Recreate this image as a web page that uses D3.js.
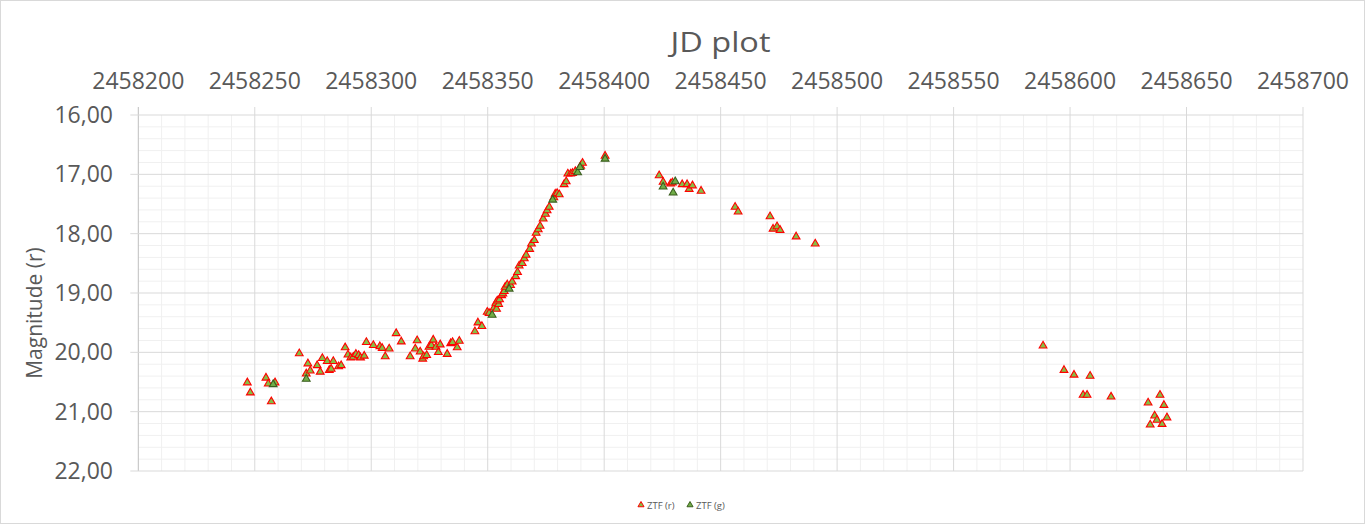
<!doctype html>
<html>
<head>
<meta charset="utf-8">
<script src="https://cdn.jsdelivr.net/npm/d3@7"></script>
<style>
  html, body { margin: 0; padding: 0; background: #fff; }
  svg { display: block; font-family: "Open Sans", sans-serif; }
</style>
</head>
<body>
<svg id="chart" width="1365" height="524"></svg>
<script>
  // ZTF (r) photometry
  var rJD = [
    2458246.8, 2458248.1, 2458254.8, 2458255.8, 2458258.7, 2458257.1, 2458269.1, 2458272.8,
    2458272.1, 2458273.8, 2458276.8, 2458278.1, 2458279.0, 2458281.1, 2458282.0, 2458282.8,
    2458283.7, 2458286.0, 2458287.1, 2458288.8, 2458290.0, 2458291.2, 2458292.3, 2458293.4,
    2458294.6, 2458295.4, 2458297.0, 2458297.9, 2458300.9, 2458303.7, 2458304.7, 2458306.0,
    2458307.7, 2458310.7, 2458312.9, 2458316.7, 2458318.9, 2458319.7, 2458321.0, 2458322.1,
    2458322.5, 2458323.8, 2458324.8, 2458325.8, 2458326.6, 2458327.8, 2458328.8, 2458329.6,
    2458332.6, 2458334.1, 2458334.9, 2458336.9, 2458337.8, 2458344.5, 2458345.8, 2458347.5,
    2458349.8, 2458350.6, 2458352.7, 2458353.8, 2458353.5, 2458354.7, 2458354.1, 2458355.1,
    2458356.0, 2458356.5, 2458357.1, 2458357.5, 2458358.4, 2458359.8, 2458360.5, 2458362.0,
    2458362.8, 2458363.5, 2458364.8, 2458365.7, 2458366.5, 2458368.0, 2458368.8, 2458370.0,
    2458370.8, 2458371.7, 2458372.5, 2458373.8, 2458374.8, 2458375.5, 2458376.4, 2458378.4,
    2458379.0, 2458379.8, 2458380.7, 2458382.8, 2458383.7, 2458384.4, 2458385.6, 2458386.4,
    2458387.6, 2458389.9, 2458390.7, 2458400.4, 2458423.6, 2458425.3, 2458428.5, 2458429.3,
    2458433.5, 2458435.6, 2458436.5, 2458437.9, 2458441.6, 2458456.2, 2458457.5, 2458471.2,
    2458472.5, 2458474.2, 2458475.5, 2458482.4, 2458490.6, 2458588.4, 2458597.4, 2458601.7,
    2458608.6, 2458605.6, 2458607.3, 2458617.6, 2458633.5, 2458638.6, 2458640.3, 2458636.3,
    2458637.3, 2458641.6, 2458634.4, 2458639.5
  ];
  var rMag = [
    20.51, 20.68, 20.43, 20.53, 20.51, 20.83, 20.02, 20.19,
    20.36, 20.31, 20.22, 20.33, 20.10, 20.15, 20.30, 20.28,
    20.15, 20.24, 20.22, 19.92, 20.04, 20.09, 20.08, 20.03,
    20.05, 20.09, 20.06, 19.83, 19.88, 19.90, 19.93, 20.07,
    19.94, 19.68, 19.82, 20.07, 19.94, 19.80, 19.99, 20.11,
    20.07, 20.05, 19.91, 19.88, 19.79, 19.91, 20.00, 19.87,
    20.03, 19.85, 19.83, 19.92, 19.81, 19.65, 19.50, 19.56,
    19.32, 19.34, 19.25, 19.27, 19.17, 19.19, 19.13, 19.11,
    19.04, 19.01, 18.97, 18.90, 18.86, 18.87, 18.81, 18.72,
    18.65, 18.54, 18.50, 18.42, 18.36, 18.26, 18.17, 18.11,
    17.99, 17.93, 17.87, 17.75, 17.67, 17.61, 17.55, 17.39,
    17.33, 17.32, 17.34, 17.17, 17.12, 16.99, 16.99, 16.98,
    16.95, 16.86, 16.81, 16.69, 17.02, 17.13, 17.16, 17.14,
    17.17, 17.17, 17.25, 17.19, 17.28, 17.55, 17.63, 17.71,
    17.92, 17.88, 17.94, 18.05, 18.17, 19.89, 20.30, 20.38,
    20.40, 20.72, 20.72, 20.75, 20.85, 20.72, 20.89, 21.07,
    21.14, 21.10, 21.22, 21.21
  ];

  // ZTF (g) photometry
  var gJD = [
    2458257.9, 2458272.1, 2458351.9, 2458359.2, 2458377.9, 2458388.6,
    2458389.6, 2458400.4, 2458425.3, 2458430.5, 2458429.6
  ];
  var gMag = [
    20.54, 20.45, 19.37, 18.93, 17.43, 16.97,
    16.88, 16.74, 17.21, 17.12, 17.31
  ];

  var xTicks = d3.range(2458200, 2458701, 50);
  var yTicks = [16, 17, 18, 19, 20, 21, 22];
  var seriesNames = ['ZTF (r)', 'ZTF (g)'];

  var W = 1365, H = 524;
  var plotL = 138.3, plotR = 1303, plotT = 115, plotB = 471;
  var textColor = '#595959';

  var svg = d3.select('#chart');

  svg.append('rect')
    .attr('x', 0.5).attr('y', 0.5)
    .attr('width', W - 1).attr('height', H - 1)
    .attr('fill', '#fff').attr('stroke', '#d9d9d9');

  var x = d3.scaleLinear().domain([2458200, 2458700]).range([plotL, plotR]);
  var y = d3.scaleLinear().domain([16, 22]).range([plotT, plotB]);

  var fmtY = function (d) { return d3.format('.2f')(d).replace('.', ','); };

  // minor grid
  var grid = svg.append('g');
  grid.selectAll('line.mx')
    .data(d3.range(2458200, 2458701, 10).filter(function (d) { return d % 50 !== 0; }))
    .enter().append('line')
    .attr('x1', function (d) { return x(d); }).attr('x2', function (d) { return x(d); })
    .attr('y1', plotT).attr('y2', plotB)
    .attr('stroke', '#f0f0f0').attr('stroke-width', 1);
  grid.selectAll('line.my')
    .data(d3.range(16, 22.001, 0.2).filter(function (d) { return Math.abs(d - Math.round(d)) > 0.01; }))
    .enter().append('line')
    .attr('x1', plotL).attr('x2', plotR)
    .attr('y1', function (d) { return y(d); }).attr('y2', function (d) { return y(d); })
    .attr('stroke', '#f0f0f0').attr('stroke-width', 1);

  // major grid, with ticks poking outside the plot area
  grid.selectAll('line.Mx')
    .data(xTicks)
    .enter().append('line')
    .attr('x1', function (d) { return x(d); }).attr('x2', function (d) { return x(d); })
    .attr('y1', plotT - 8).attr('y2', plotB)
    .attr('stroke', function (d, i) { return i === 0 ? '#bfbfbf' : '#d9d9d9'; })
    .attr('stroke-width', 1);
  grid.selectAll('line.My')
    .data(yTicks)
    .enter().append('line')
    .attr('x1', plotL - 8).attr('x2', plotR)
    .attr('y1', function (d) { return y(d); }).attr('y2', function (d) { return y(d); })
    .attr('stroke', '#d9d9d9')
    .attr('stroke-width', 1);

  // top axis labels
  svg.append('g').selectAll('text')
    .data(xTicks)
    .enter().append('text')
    .attr('x', function (d) { return x(d); })
    .attr('y', 89)
    .attr('text-anchor', 'middle')
    .attr('font-size', 23)
    .attr('fill', textColor)
    .text(function (d) { return d; });

  // left axis labels
  svg.append('g').selectAll('text')
    .data(yTicks)
    .enter().append('text')
    .attr('x', 113)
    .attr('y', function (d) { return y(d) + 8; })
    .attr('text-anchor', 'end')
    .attr('font-size', 23)
    .attr('fill', textColor)
    .text(fmtY);

  svg.append('text')
    .attr('x', 720.5).attr('y', 52)
    .attr('text-anchor', 'middle')
    .attr('font-size', 28)
    .attr('textLength', 100).attr('lengthAdjust', 'spacingAndGlyphs')
    .attr('fill', textColor)
    .text('JD plot');

  svg.append('text')
    .attr('transform', 'translate(42,313) rotate(-90)')
    .attr('text-anchor', 'middle')
    .attr('font-size', 21)
    .attr('fill', textColor)
    .text('Magnitude (r)');

  var tri = d3.symbol().type(d3.symbolTriangle).size(26);
  var styles = [
    { fill: '#86bf45', stroke: '#ff0000' },
    { fill: '#70ad47', stroke: '#3b5e1f' }
  ];

  function drawSeries(jd, mag, st) {
    svg.append('g').selectAll('path')
      .data(jd.map(function (d, i) { return [d, mag[i]]; }))
      .enter().append('path')
      .attr('d', tri)
      .attr('transform', function (d) { return 'translate(' + x(d[0]) + ',' + y(d[1]) + ')'; })
      .attr('fill', st.fill)
      .attr('stroke', st.stroke)
      .attr('stroke-width', 1.1);
  }
  drawSeries(rJD, rMag, styles[0]);
  drawSeries(gJD, gMag, styles[1]);

  // legend
  var legend = svg.append('g').attr('transform', 'translate(641,505)');
  var item = legend.selectAll('g')
    .data(seriesNames)
    .enter().append('g')
    .attr('transform', function (d, i) { return 'translate(' + (i * 49) + ',0)'; });
  item.append('path')
    .attr('d', d3.symbol().type(d3.symbolTriangle).size(16))
    .attr('fill', function (d, i) { return styles[i].fill; })
    .attr('stroke', function (d, i) { return styles[i].stroke; })
    .attr('stroke-width', 1);
  item.append('text')
    .attr('x', 6).attr('y', 3.5)
    .attr('font-size', 9.5)
    .attr('fill', textColor)
    .text(function (d) { return d; });
</script>
</body>
</html>
